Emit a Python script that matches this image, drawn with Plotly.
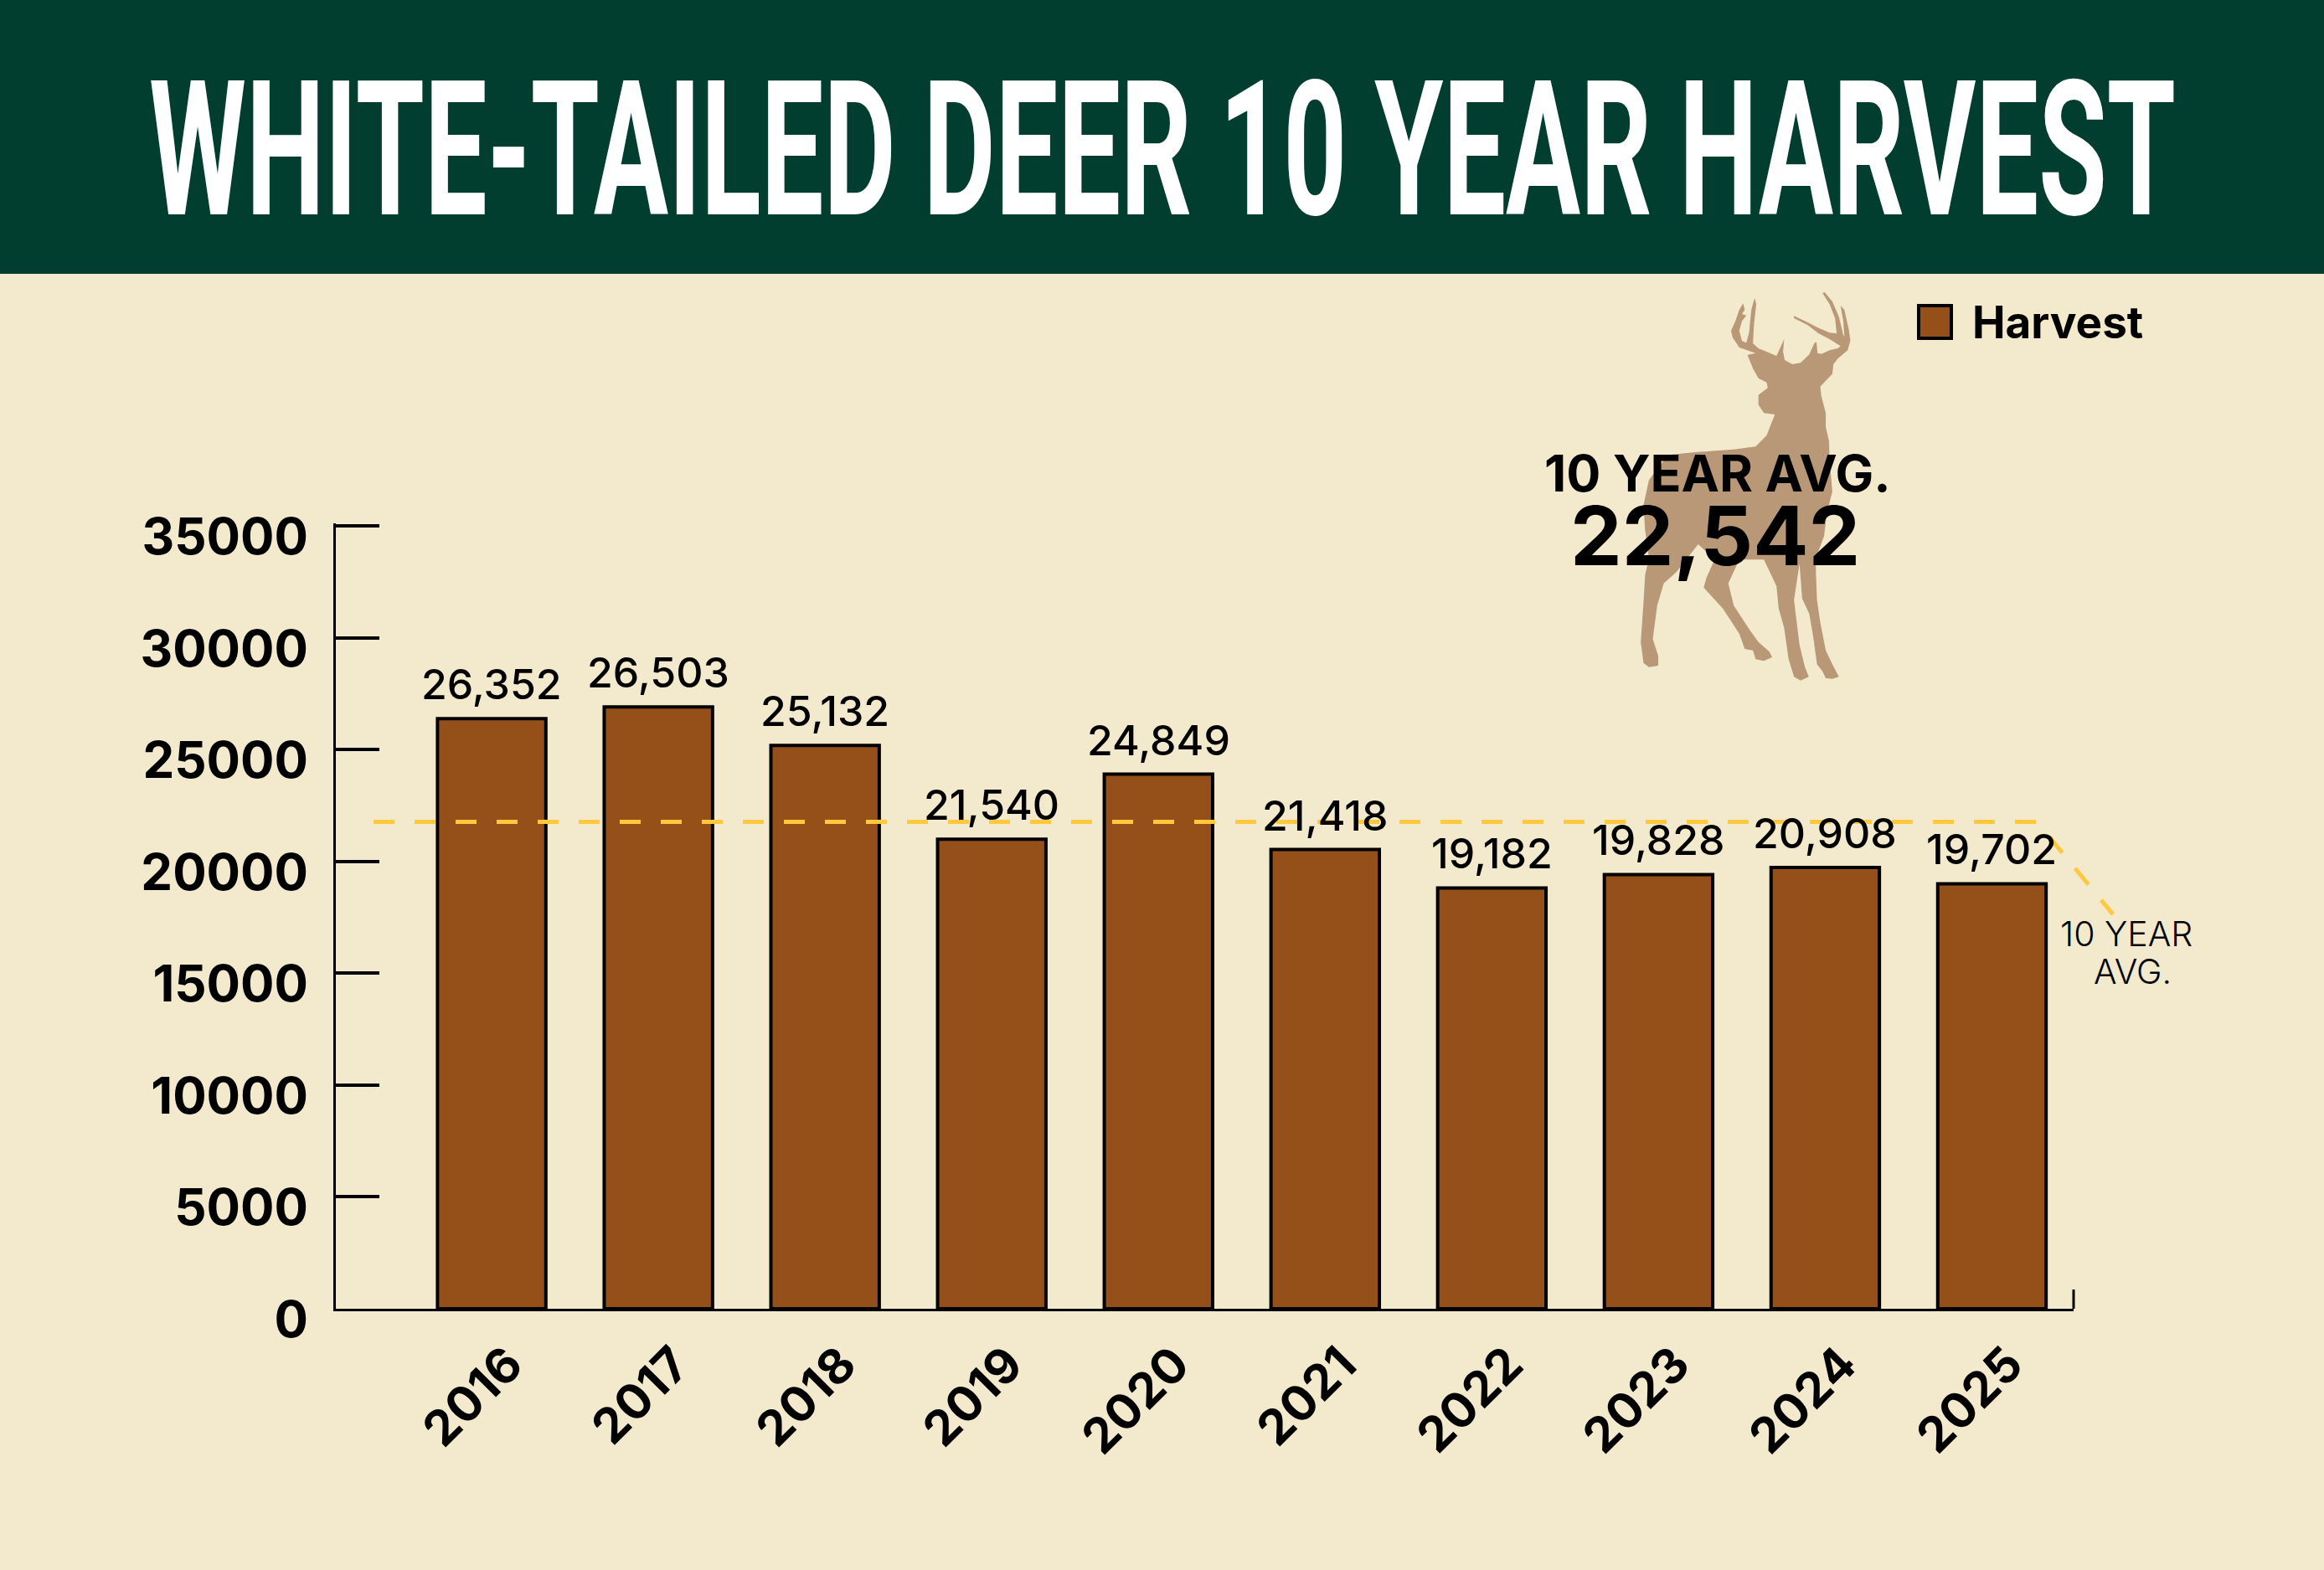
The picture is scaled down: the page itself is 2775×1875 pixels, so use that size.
# White-tailed deer harvest bar chart
import plotly.graph_objects as go

W, H = 2775, 1875

# data
years = ["2016", "2017", "2018", "2019", "2020", "2021", "2022", "2023", "2024", "2025"]
# bar heights as drawn
harvest = [26380, 26900, 25180, 20990, 23900, 20530, 18810, 19410, 19730, 19000]
# printed labels (they do not always agree with the bar heights in the original)
bar_labels = ["26,352", "26,503", "25,132", "21,540", "24,849", "21,418", "19,182", "19,828", "20,908", "19,702"]
y_ticks = [0, 5000, 10000, 15000, 20000, 25000, 30000, 35000]
avg_line = 21770
avg_text = "22,542"

BG = "#F3EACD"
GREEN = "#013E2F"
BROWN = "#95501A"
DEER = "#B89877"
DASH = "#FFC83D"
FONT = "Inter"

# deer outline (crop coords of the 1025x520 zoom)
deer_outline = [
    (515,312),(530,305),(500,285),(488,250),(485,225),(493,190),(500,150),(507,127),(510,150),(505,165),(513,170),
    (505,190),(500,225),(505,262),(513,268),(518,230),(522,150),(528,108),(531,130),(527,200),(525,270),(535,288),
    (568,315),(575,285),(582,255),(580,300),(583,330),(597,345),(612,340),(628,310),(637,270),(641,265),(643,305),
    (650,308),(665,295),(680,288),(685,280),(665,255),(645,235),(625,205),(600,180),(600,172),(625,195),(645,215),
    (665,232),(678,235),(675,180),(665,130),(652,90),(656,87),(670,120),(682,175),(690,240),(692,245),(690,190),
    (685,135),(692,150),(700,220),(703,260),(698,295),(680,325),(672,345),(670,380),(660,400),(648,425),(650,460),
    (658,520),(658,570),(664,620),(665,690),(670,800),(660,880),(655,960),(640,1040),(640,1090),(642,1190),(648,1270),
    (658,1370),(670,1420),(682,1465),(670,1472),(658,1470),(652,1445),(642,1420),(635,1320),(628,1240),(615,1185),
    (610,1060),(600,1190),(610,1350),(620,1430),(627,1465),(612,1478),(600,1465),(590,1400),(582,1290),(572,1220),
    (568,1140),(545,1045),(500,1045),(480,1130),(490,1210),(520,1300),(535,1340),(555,1375),(560,1395),(545,1408),
    (530,1402),(525,1370),(510,1365),(500,1310),(470,1220),(435,1145),(440,1110),(455,1045),(425,990),(385,1090),
    (362,1130),(350,1210),(342,1330),(352,1390),(352,1425),(335,1430),(325,1415),(320,1340),(325,1200),(328,1100),
    (335,1040),(328,940),(325,850),(335,760),(370,670),(420,660),(490,650),(530,640),(550,600),(565,525),(545,520),
    (535,490),(535,455),(552,430),(550,410),(535,395),(525,360),
]


def px(x):
    return x / W


def py(y):
    return 1 - y / H


deer_path = "M" + " L".join(
    f"{px(1750 + x / 1.53):.5f},{py(320 + y / 3):.5f}" for x, y in deer_outline
) + " Z"

# plot area in page pixels (a hair of headroom so the 35000 tick is still drawn)
left, right, top, bottom = 401, 2476, 625.3, 1563
y_max = 35100
line_y = bottom - (bottom - top) * avg_line / y_max

fig = go.Figure()
fig.add_trace(go.Bar(
    x=years, y=harvest, name="Harvest", width=0.65,
    marker=dict(color=BROWN, line=dict(color="black", width=4)),
    showlegend=False, cliponaxis=False,
))

shapes = [
    dict(type="rect", xref="paper", yref="paper", x0=0, x1=1, y0=py(327), y1=1,
         fillcolor=GREEN, line_width=0, layer="below"),
    dict(type="path", xref="paper", yref="paper", path=deer_path,
         fillcolor=DEER, line_width=0, layer="below"),
    dict(type="path", xref="paper", yref="paper",
         path=f"M{px(446)},{py(line_y)} L{px(2432)},{py(line_y)} L{px(2523)},{py(1092)}",
         line=dict(color=DASH, width=5, dash="25px,24px"), layer="above"),
    # end tick of the x axis
    dict(type="line", xref="paper", yref="paper", x0=px(right), x1=px(right), y0=py(bottom), y1=py(bottom - 23),
         line=dict(color="black", width=3)),
    # legend swatch
    dict(type="rect", xref="paper", yref="paper", x0=px(2291), x1=px(2330), y0=py(365), y1=py(404),
         fillcolor=BROWN, line=dict(color="black", width=4)),
]

annotations = [
    dict(text="WHITE-TAILED DEER 10 YEAR HARVEST", x=0.5, y=py(180), xanchor="center", yanchor="middle",
         name="title", font=dict(family="Roboto", size=224, color="white", weight=700)),
    dict(text="Harvest", x=px(2353), y=py(385), xanchor="left", yanchor="middle",
         font=dict(family=FONT, size=53, color="black", weight=700)),
    dict(text="10 YEAR AVG.", x=px(2051), y=py(565), xanchor="center", yanchor="middle",
         font=dict(family=FONT, size=61, color="black", weight=700)),
    dict(text=avg_text, x=px(2048), y=py(640), xanchor="center", yanchor="middle",
         font=dict(family=FONT, size=98, color="black", weight=700)),
    dict(text="10 YEAR", x=px(2539), y=py(1115), xanchor="center", yanchor="middle",
         font=dict(family=FONT, size=41, color="black", weight=300)),
    dict(text="AVG.", x=px(2546), y=py(1160), xanchor="center", yanchor="middle",
         font=dict(family=FONT, size=41, color="black", weight=300)),
]
annotations = [dict(a, xref="paper", yref="paper", showarrow=False) for a in annotations]

# value labels above the bars
for i, (value, label) in enumerate(zip(harvest, bar_labels)):
    annotations.append(dict(
        x=i, y=value, text=label, xref="x", yref="y", showarrow=False,
        xanchor="center", yanchor="bottom", yshift=9,
        font=dict(family=FONT, size=50, color="black", weight=500),
    ))

fig.update_layout(
    width=W, height=H,
    margin=dict(l=0, r=0, t=0, b=0),
    paper_bgcolor=BG, plot_bgcolor=BG,
    shapes=shapes, annotations=annotations,
    showlegend=False,
    xaxis=dict(
        domain=[px(left), px(right)], type="category", range=[-0.935, 9.49], automargin=False,
        showgrid=False, zeroline=False, showline=True, linecolor="black", linewidth=3,
        ticks="", tickangle=-45, ticklabelstandoff=6, ticklabelshift=20,
        tickfont=dict(family=FONT, size=58, color="black", weight=700),
    ),
    yaxis=dict(
        domain=[py(bottom), py(top)], range=[0, y_max], tickvals=y_ticks, automargin=False,
        ticktext=[str(t) for t in y_ticks],
        showgrid=False, zeroline=False, showline=True, linecolor="black", linewidth=3,
        ticks="inside", ticklen=52, tickwidth=4, tickcolor="black",
        ticklabelstandoff=18, ticklabelshift=13,
        tickfont=dict(family=FONT, size=60, color="black", weight=700),
    ),
)

# squeeze the title into the condensed width of the original, no condensed face is installed
squeeze = """
document.body.style.margin = '0';
var g = document.querySelector('.annotation[data-index="0"]');
var t = g.querySelector('text');
t.setAttribute('textLength', '2420');
t.setAttribute('lengthAdjust', 'spacingAndGlyphs');
g.querySelectorAll('rect').forEach(function (r) {
    var w = parseFloat(r.getAttribute('width'));
    r.setAttribute('x', parseFloat(r.getAttribute('x') || 0) + (w - 2420) / 2);
    r.setAttribute('width', 2420);
});
"""

fig.write_html("out.html", post_script=squeeze, config={"displayModeBar": False})
